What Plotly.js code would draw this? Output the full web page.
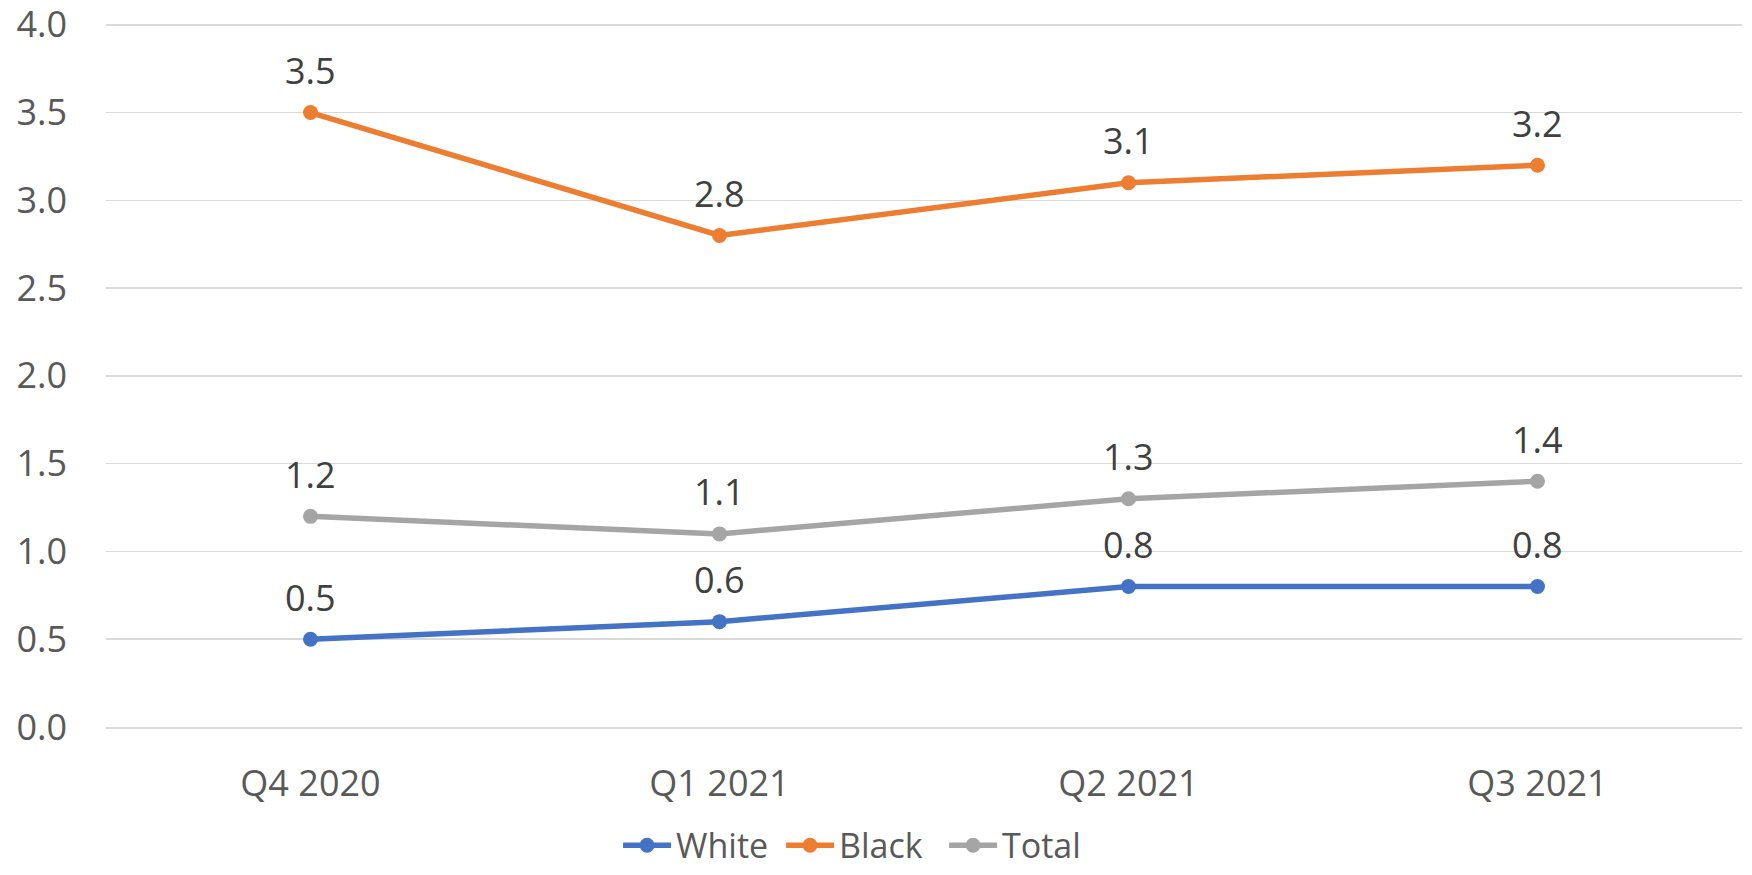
<!DOCTYPE html>
<html>
<head>
<meta charset="utf-8">
<script src="https://cdn.plot.ly/plotly-3.0.1.min.js"></script>
<style>
  html, body { margin: 0; padding: 0; background: #ffffff; }
  #chart { width: 1752px; height: 875px; }
</style>
</head>
<body>
<div id="chart"></div>
<script>
const quarters = ["Q4 2020", "Q1 2021", "Q2 2021", "Q3 2021"];
const whiteValues = [0.5, 0.6, 0.8, 0.8];
const blackValues = [3.5, 2.8, 3.1, 3.2];
const totalValues = [1.2, 1.1, 1.3, 1.4];
const seriesNames = ["White", "Black", "Total"];
const seriesColors = ["#4472C4", "#ED7D31", "#A5A5A5"];
const yTickValues = [0, 0.5, 1, 1.5, 2, 2.5, 3, 3.5, 4];
const yTickLabels = ["0.0", "0.5", "1.0", "1.5", "2.0", "2.5", "3.0", "3.5", "4.0"];

const FONT = '"Open Sans", "Liberation Sans", sans-serif';
const allValues = [whiteValues, blackValues, totalValues];

const traces = allValues.map((vals, i) => ({
  type: 'scatter',
  mode: 'lines+markers',
  name: seriesNames[i],
  x: quarters,
  y: vals,
  line: { color: seriesColors[i], width: 5.5 },
  marker: { color: seriesColors[i], size: 15 },
  cliponaxis: false,
  hoverinfo: 'x+y+name'
}));

const annotations = [];
allValues.forEach((vals) => {
  vals.forEach((v, j) => {
    annotations.push({
      x: quarters[j],
      y: v,
      xref: 'x',
      yref: 'y',
      text: v.toFixed(1),
      showarrow: false,
      yshift: 42,
      font: { family: FONT, size: 36, color: '#404040' }
    });
  });
});

const layout = {
  width: 1752,
  height: 875,
  margin: { l: 106, r: 10, t: 23, b: 148, pad: 0, autoexpand: false },
  paper_bgcolor: '#ffffff',
  plot_bgcolor: '#ffffff',
  font: { family: FONT, size: 36, color: '#595959' },
  showlegend: true,
  annotations: annotations,
  legend: {
    orientation: 'h',
    x: 0.313,
    xanchor: 'left',
    y: -0.1685,
    yanchor: 'middle',
    font: { family: FONT, size: 34, color: '#595959' },
    itemwidth: 48,
    entrywidth: 100,
    tracegroupgap: 0
  },
  xaxis: {
    type: 'category',
    showgrid: false,
    showline: true,
    linecolor: '#D9D9D9',
    linewidth: 1.5,
    ticks: '',
    ticklabelstandoff: 24,
    tickfont: { family: FONT, size: 36, color: '#595959' },
    range: [-0.5, 3.5],
    fixedrange: true
  },
  yaxis: {
    range: [0, 4.01],
    tickvals: yTickValues,
    ticktext: yTickLabels,
    ticklabeloverflow: 'allow',
    showgrid: true,
    gridcolor: '#D9D9D9',
    gridwidth: 1.5,
    zeroline: false,
    showline: false,
    ticks: '',
    ticklabelstandoff: 38,
    tickfont: { family: FONT, size: 36, color: '#595959' },
    fixedrange: true
  }
};

Plotly.newPlot('chart', traces, layout, { displayModeBar: false, staticPlot: true });
</script>
</body>
</html>
